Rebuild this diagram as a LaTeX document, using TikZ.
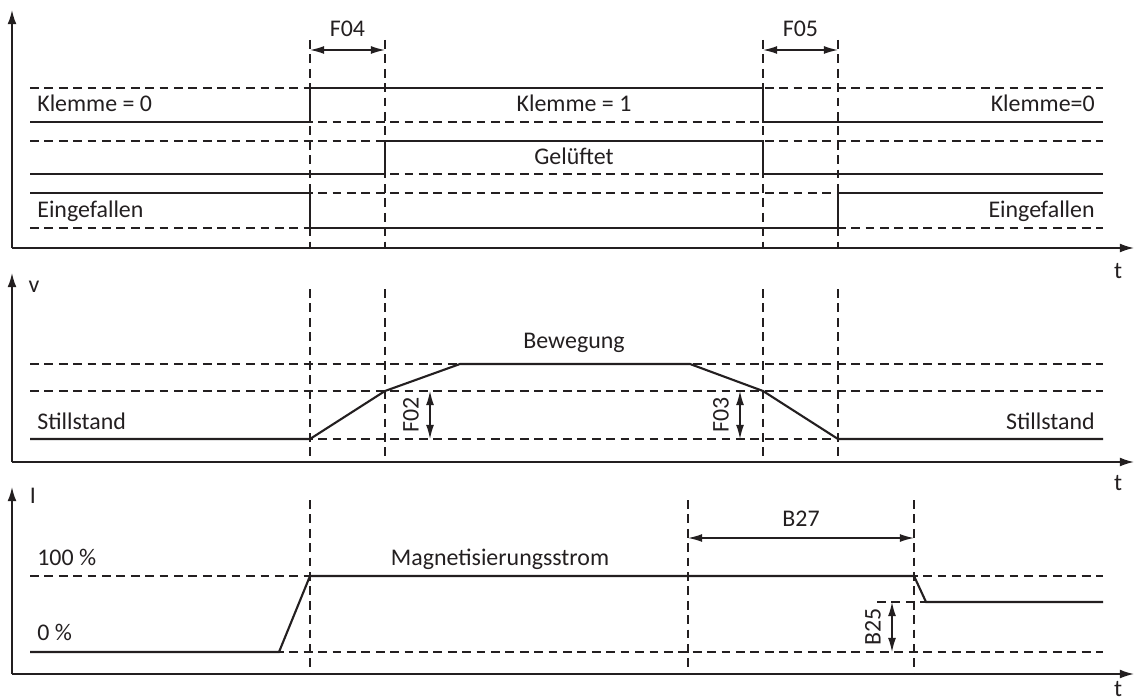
\documentclass[tikz,border=0pt]{standalone}
\usepackage{fontspec}
\setmainfont{Carlito}
\usepackage{tikz}
\usetikzlibrary{positioning, calc, arrows.meta}
\definecolor{ink}{RGB}{35, 31, 32}

\begin{document}
\begin{tikzpicture}[
      x=0.02cm, y=-0.02cm,
      font=\fontsize{13.6}{16}\selectfont,
      signal/.style={draw=ink, line width=1.2pt},
      guide/.style={draw=ink, line width=0.7pt, dash pattern=on 5pt off 3.2pt},
      axis/.style={draw=ink, line width=0.9pt, -{Latex[length=8pt, width=5pt]}},
      span/.style={draw=ink, line width=0.8pt, {Latex[length=8pt, width=4.5pt]}-{Latex[length=8pt, width=4.5pt]}},
      lbl/.style={text=ink, inner sep=0pt, anchor=base}
    ]
      \useasboundingbox (0,0) rectangle (1135,699);

      % Panel 1: Klemme / Gelueftet / Eingefallen
      \coordinate (o1) at (12,248);
      \draw[axis] (o1) -- (12,10);
      \draw[axis] (o1) -- (1134,248);
      \node[lbl] (t1) at (1118,278) {t};
      \draw[guide] (310,40) -- (310,248);
      \draw[guide] (385,40) -- (385,248);
      \draw[guide] (763,40) -- (763,248);
      \draw[guide] (838,40) -- (838,248);
      \coordinate (f04a) at (310,50);
      \coordinate (f04b) at (385,50);
      \draw[span] (f04a) -- (f04b);
      \node[lbl] (f04) at (347.5,37) {F04};
      \coordinate (f05a) at (763,50);
      \coordinate (f05b) at (838,50);
      \draw[span] (f05a) -- (f05b);
      \node[lbl] (f05) at (800.5,37) {F05};

      \draw[guide] (30,88) -- (1103,88);
      \draw[guide] (30,122) -- (1103,122);
      \draw[signal] (30,122) -- (310,122) -- (310,88) -- (763,88) -- (763,122) -- (1103,122);
      \node[lbl, anchor=base west] (klemmeA) at (37,112) {Klemme = 0};
      \node[lbl] (klemmeB) at (574,112) {Klemme = 1};
      \node[lbl, anchor=base east] (klemmeC) at (1095,112) {Klemme=0};

      \draw[guide] (30,141) -- (1103,141);
      \draw[guide] (30,174) -- (1103,174);
      \draw[signal] (30,174) -- (385,174) -- (385,141) -- (763,141) -- (763,174) -- (1103,174);
      \node[lbl] (gelueftet) at (574,165) {Gelüftet};

      \draw[guide] (30,193) -- (1103,193);
      \draw[guide] (30,228) -- (1103,228);
      \draw[signal] (30,193) -- (310,193) -- (310,228) -- (838,228) -- (838,193) -- (1103,193);
      \node[lbl, anchor=base west] (eingefA) at (37,217) {Eingefallen};
      \node[lbl, anchor=base east] (eingefB) at (1095,217) {Eingefallen};

      % Panel 2: v
      \coordinate (o2) at (12,462);
      \draw[axis] (o2) -- (12,273);
      \draw[axis] (o2) -- (1134,462);
      \node[lbl] (v) at (34,292) {v};
      \node[lbl] (t2) at (1118,490) {t};
      \draw[guide] (310,289) -- (310,462);
      \draw[guide] (385,289) -- (385,462);
      \draw[guide] (763,289) -- (763,462);
      \draw[guide] (838,289) -- (838,462);
      \draw[guide] (30,364) -- (1103,364);
      \draw[guide] (30,391) -- (1103,391);
      \draw[guide] (30,439) -- (1103,439);
      \draw[signal] (30,439) -- (310,439) -- (385,391) -- (460,364) -- (690,364) -- (763,391) -- (838,439) -- (1103,439);
      \node[lbl] (bewegung) at (574,348) {Bewegung};
      \node[lbl, anchor=base west] (stillA) at (37,429) {Stillstand};
      \node[lbl, anchor=base east] (stillB) at (1095,429) {Stillstand};
      \coordinate (f02a) at (430,391);
      \coordinate (f02b) at (430,439);
      \draw[span] (f02a) -- (f02b);
      \node[text=ink, inner sep=0pt, rotate=90] (f02) at (411,415) {F02};
      \coordinate (f03a) at (740,391);
      \coordinate (f03b) at (740,439);
      \draw[span] (f03a) -- (f03b);
      \node[text=ink, inner sep=0pt, rotate=90] (f03) at (721,415) {F03};

      % Panel 3: I
      \coordinate (o3) at (12,674);
      \draw[axis] (o3) -- (12,487);
      \draw[axis] (o3) -- (1134,674);
      \node[lbl] (i) at (33,503) {I};
      \node[lbl] (t3) at (1118,696.5) {t};
      \draw[guide] (310,500) -- (310,674);
      \draw[guide] (688,500) -- (688,674);
      \draw[guide] (914,500) -- (914,674);
      \draw[guide] (30,576) -- (1103,576);
      \draw[guide] (30,652) -- (1103,652);
      \draw[guide] (877,602) -- (926,602);
      \draw[signal] (30,652) -- (279,652) -- (310,576) -- (914,576) -- (926,602) -- (1103,602);
      \node[lbl, anchor=base west] (full) at (37,565) {100 \%};
      \node[lbl, anchor=base west] (zero) at (37,640) {0 \%};
      \node[lbl] (magnet) at (500,565) {Magnetisierungsstrom};
      \coordinate (b27a) at (688,538);
      \coordinate (b27b) at (914,538);
      \draw[span] (b27a) -- (b27b);
      \node[lbl] (b27) at (801,526) {B27};
      \coordinate (b25a) at (892,602);
      \coordinate (b25b) at (892,652);
      \draw[span] (b25a) -- (b25b);
      \node[text=ink, inner sep=0pt, rotate=90] (b25) at (873,627) {B25};
    \end{tikzpicture}
\end{document}
